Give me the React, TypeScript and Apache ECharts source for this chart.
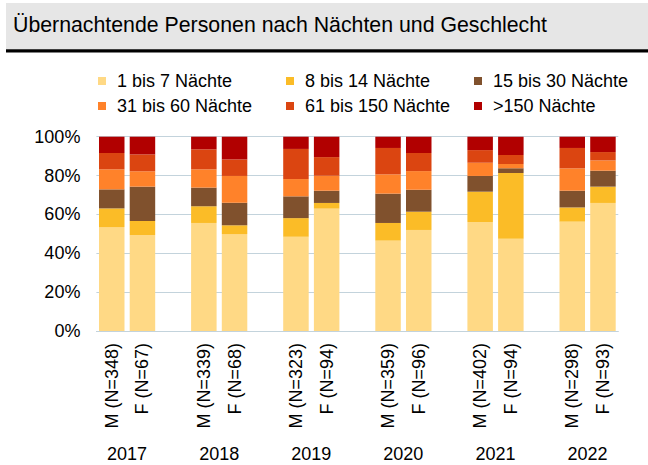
import React, { useEffect, useRef } from "react";
import * as echarts from "echarts";

const years = ["2017", "2018", "2019", "2020", "2021", "2022"];
const barLabels = [
  "M (N=348)", "F (N=67)",
  "M (N=339)", "F (N=68)",
  "M (N=323)", "F (N=94)",
  "M (N=359)", "F (N=96)",
  "M (N=402)", "F (N=94)",
  "M (N=298)", "F (N=93)",
];
const seriesNames = [
  "1 bis 7 Nächte",
  "8 bis 14 Nächte",
  "15 bis 30 Nächte",
  "31 bis 60 Nächte",
  "61 bis 150 Nächte",
  ">150 Nächte",
];
const colors = ["#FFD985", "#FBBC27", "#80512D", "#FF822A", "#DB4511", "#B10000"];

const n1to7 = [53.5, 49.4, 55.6, 49.9, 48.5, 63.0, 46.5, 52.0, 56.1, 47.5, 56.3, 65.9];
const n8to14 = [9.6, 7.2, 8.6, 4.5, 9.6, 2.9, 9.1, 9.4, 15.6, 33.8, 7.3, 8.4];
const n15to30 = [9.8, 17.7, 9.6, 11.6, 11.2, 6.3, 15.1, 11.3, 8.1, 2.4, 8.6, 8.2];
const n31to60 = [10.3, 7.9, 9.4, 13.8, 8.9, 7.7, 9.9, 9.6, 6.8, 2.2, 11.5, 5.3];
const n61to150 = [8.4, 8.7, 10.3, 8.5, 15.5, 9.6, 13.6, 9.3, 6.5, 4.7, 10.5, 4.3];
const nOver150 = [8.4, 9.1, 6.5, 11.7, 6.3, 10.5, 5.8, 8.4, 6.9, 9.4, 5.8, 7.9];

const seriesValues = [n1to7, n8to14, n15to30, n31to60, n61to150, nOver150];

const FONT = "'Liberation Sans', Arial, sans-serif";

// insert an empty category between year pairs
function withGaps<T>(arr: T[], gap: T): T[] {
  const out: T[] = [];
  arr.forEach((v, i) => {
    out.push(v);
    if (i % 2 === 1 && i < arr.length - 1) out.push(gap);
  });
  return out;
}

export default function App() {
  const ref = useRef<HTMLDivElement>(null);
  useEffect(() => {
    if (!ref.current) return;
    const chart = echarts.init(ref.current, undefined, { renderer: "svg" });
    const cats = withGaps(barLabels, "");
    const gridTop = 136.7;
    const gridBottom = 134;
    const legendCols = [
      [seriesNames[0], seriesNames[3]],
      [seriesNames[1], seriesNames[4]],
      [seriesNames[2], seriesNames[5]],
    ];
    const legendLefts = [98, 286, 474];
    chart.setOption({
      animation: false,
      backgroundColor: "#ffffff",
      color: colors,
      graphic: [
        { type: "rect", shape: { x: 6, y: 3, width: 642, height: 46 }, style: { fill: "#e6e6e6" } },
        { type: "rect", shape: { x: 6, y: 49.3, width: 642, height: 3.2 }, style: { fill: "#000000" } },
        {
          type: "text",
          x: 13,
          y: 24.5,
          style: {
            text: "Übernachtende Personen nach Nächten und Geschlecht",
            font: `21.3px ${FONT}`,
            fill: "#000000",
            verticalAlign: "middle",
          },
        },
      ],
      legend: legendCols.map((col, i) => ({
        data: col,
        orient: "vertical",
        left: legendLefts[i],
        top: 72,
        padding: 0,
        itemGap: 7,
        itemWidth: 8,
        itemHeight: 8,
        icon: "rect",
        selectedMode: false,
        textStyle: { fontSize: 18, fontFamily: FONT, color: "#000", lineHeight: 18, padding: [0, 0, 0, 6] },
      })),
      grid: [
        { left: 96.4, right: 29.7, top: gridTop, bottom: gridBottom },
        { left: 81, right: 14.4, top: gridTop, bottom: gridBottom },
      ],
      xAxis: [
        {
          type: "category",
          gridIndex: 0,
          data: cats,
          axisLine: { show: true, lineStyle: { color: "#c3d3dc", width: 1 } },
          axisTick: { show: false },
          axisLabel: {
            rotate: 90,
            margin: 12,
            fontSize: 18,
            fontFamily: FONT,
            color: "#000",
            interval: 0,
          },
        },
        {
          type: "category",
          gridIndex: 1,
          data: years,
          axisLine: { show: false },
          axisTick: { show: false },
          axisLabel: { margin: 114, fontSize: 18, fontFamily: FONT, color: "#000", interval: 0 },
        },
      ],
      yAxis: [
        {
          type: "value",
          gridIndex: 0,
          min: 0,
          max: 100,
          interval: 20,
          axisLine: { show: false },
          axisTick: { show: false },
          splitLine: { lineStyle: { color: "#c3d3dc", width: 1 } },
          axisLabel: { formatter: "{value}%", margin: 16, fontSize: 18, fontFamily: FONT, color: "#000" },
        },
        { type: "value", gridIndex: 1, show: false, min: 0, max: 100 },
      ],
      series: seriesNames.map((name, i) => ({
        name,
        type: "bar",
        stack: "total",
        xAxisIndex: 0,
        yAxisIndex: 0,
        barWidth: 25.5,
        itemStyle: { color: colors[i] },
        data: withGaps(seriesValues[i] as (number | string)[], "-"),
      })),
    });
    return () => chart.dispose();
  }, []);
  return (
    <div
      ref={ref}
      style={{ position: "fixed", left: 0, top: 0, width: 648, height: 465 }}
    />
  );
}
